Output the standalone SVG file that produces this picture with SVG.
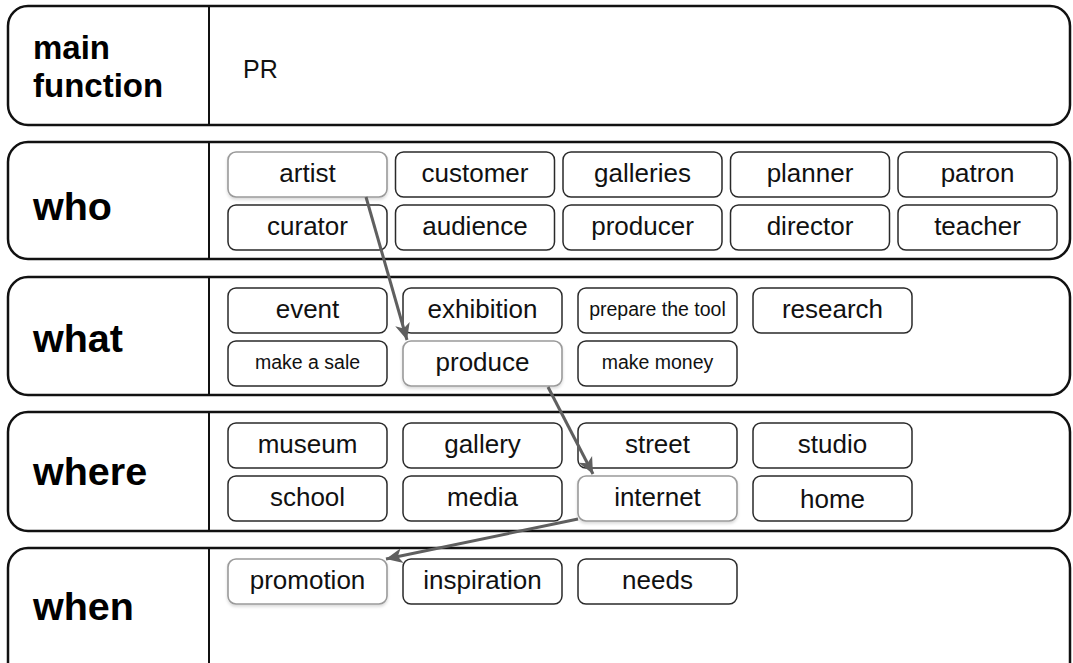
<svg xmlns="http://www.w3.org/2000/svg" width="1073" height="663" viewBox="0 0 1073 663">
<style>
.row{fill:#fff;stroke:#111;stroke-width:2.5}
.div{stroke:#111;stroke-width:2}
.lbl{font-family:"Liberation Sans",Arial,sans-serif;font-weight:bold;font-size:39.5px;fill:#000}
.lbl2{font-family:"Liberation Sans",Arial,sans-serif;font-weight:bold;font-size:33px;fill:#000}
.box{fill:#fff;stroke:#2a2a2a;stroke-width:1.5}
.hl{fill:#fff;stroke:#9a9a9a;stroke-width:1.6;filter:url(#sh)}
.t{font-family:"Liberation Sans",Arial,sans-serif;font-size:26px;fill:#111;text-anchor:middle}
.ts{font-family:"Liberation Sans",Arial,sans-serif;font-size:19.5px;fill:#111;text-anchor:middle}
.pr{font-family:"Liberation Sans",Arial,sans-serif;font-size:25px;fill:#111}
.arr{fill:none;stroke:#5f5f5f;stroke-width:3;marker-end:url(#ah)}
</style>
<defs>
<filter id="sh" x="-10%" y="-20%" width="120%" height="150%">
<feDropShadow dx="0" dy="2" stdDeviation="1.5" flood-color="#000" flood-opacity="0.15"/>
</filter>
<marker id="ah" markerUnits="userSpaceOnUse" markerWidth="18" markerHeight="18" viewBox="0 0 12 12" refX="11" refY="6" orient="auto">
<path d="M0,1 L11,6 L0,11 L3,6 z" fill="#5f5f5f"/>
</marker>
</defs>
<rect width="1073" height="663" fill="#fff"/>

<g id="row-main">
<rect class="row" x="8" y="6" width="1062" height="119" rx="20"/>
<line class="div" x1="209" y1="6" x2="209" y2="125"/>
<text class="lbl2" x="33" y="59">main</text>
<text class="lbl2" x="33" y="97">function</text>
<text class="pr" x="243" y="78">PR</text>
</g>

<g id="row-who">
<rect class="row" x="8" y="142" width="1062" height="117" rx="20"/>
<line class="div" x1="209" y1="142" x2="209" y2="259"/>
<text class="lbl" x="33" y="220">who</text>
</g>
<g id="n-artist"><rect class="hl" x="228" y="152" width="159" height="45" rx="8"/><text class="t" x="307.5" y="182">artist</text></g>
<g id="n-customer"><rect class="box" x="395.5" y="152" width="159" height="45" rx="8"/><text class="t" x="475" y="182">customer</text></g>
<g id="n-galleries"><rect class="box" x="563" y="152" width="159" height="45" rx="8"/><text class="t" x="642.5" y="182">galleries</text></g>
<g id="n-planner"><rect class="box" x="730.5" y="152" width="159" height="45" rx="8"/><text class="t" x="810" y="182">planner</text></g>
<g id="n-patron"><rect class="box" x="898" y="152" width="159" height="45" rx="8"/><text class="t" x="977.5" y="182">patron</text></g>
<g id="n-curator"><rect class="box" x="228" y="205" width="159" height="45" rx="8"/><text class="t" x="307.5" y="235">curator</text></g>
<g id="n-audience"><rect class="box" x="395.5" y="205" width="159" height="45" rx="8"/><text class="t" x="475" y="235">audience</text></g>
<g id="n-producer"><rect class="box" x="563" y="205" width="159" height="45" rx="8"/><text class="t" x="642.5" y="235">producer</text></g>
<g id="n-director"><rect class="box" x="730.5" y="205" width="159" height="45" rx="8"/><text class="t" x="810" y="235">director</text></g>
<g id="n-teacher"><rect class="box" x="898" y="205" width="159" height="45" rx="8"/><text class="t" x="977.5" y="235">teacher</text></g>

<g id="row-what">
<rect class="row" x="8" y="277" width="1062" height="118" rx="20"/>
<line class="div" x1="209" y1="277" x2="209" y2="395"/>
<text class="lbl" x="33" y="352">what</text>
</g>
<g id="n-event"><rect class="box" x="228" y="288" width="159" height="45" rx="8"/><text class="t" x="307.5" y="318">event</text></g>
<g id="n-exhibition"><rect class="box" x="403" y="288" width="159" height="45" rx="8"/><text class="t" x="482.5" y="318">exhibition</text></g>
<g id="n-prepare"><rect class="box" x="578" y="288" width="159" height="45" rx="8"/><text class="ts" x="657.5" y="316">prepare the tool</text></g>
<g id="n-research"><rect class="box" x="753" y="288" width="159" height="45" rx="8"/><text class="t" x="832.5" y="318">research</text></g>
<g id="n-sale"><rect class="box" x="228" y="341" width="159" height="45" rx="8"/><text class="ts" x="307.5" y="369">make a sale</text></g>
<g id="n-produce"><rect class="hl" x="403" y="341" width="159" height="45" rx="8"/><text class="t" x="482.5" y="371">produce</text></g>
<g id="n-money"><rect class="box" x="578" y="341" width="159" height="45" rx="8"/><text class="ts" x="657.5" y="369">make money</text></g>

<g id="row-where">
<rect class="row" x="8" y="412" width="1062" height="119" rx="20"/>
<line class="div" x1="209" y1="412" x2="209" y2="531"/>
<text class="lbl" x="33" y="485">where</text>
</g>
<g id="n-museum"><rect class="box" x="228" y="423" width="159" height="45" rx="8"/><text class="t" x="307.5" y="453">museum</text></g>
<g id="n-gallery"><rect class="box" x="403" y="423" width="159" height="45" rx="8"/><text class="t" x="482.5" y="453">gallery</text></g>
<g id="n-street"><rect class="box" x="578" y="423" width="159" height="45" rx="8"/><text class="t" x="657.5" y="453">street</text></g>
<g id="n-studio"><rect class="box" x="753" y="423" width="159" height="45" rx="8"/><text class="t" x="832.5" y="453">studio</text></g>
<g id="n-school"><rect class="box" x="228" y="476" width="159" height="45" rx="8"/><text class="t" x="307.5" y="506">school</text></g>
<g id="n-media"><rect class="box" x="403" y="476" width="159" height="45" rx="8"/><text class="t" x="482.5" y="506">media</text></g>
<g id="n-internet"><rect class="hl" x="578" y="476" width="159" height="45" rx="8"/><text class="t" x="657.5" y="506">internet</text></g>
<g id="n-home"><rect class="box" x="753" y="476" width="159" height="45" rx="8"/><text class="t" x="832.5" y="508">home</text></g>

<g id="row-when">
<rect class="row" x="8" y="548" width="1062" height="140" rx="20"/>
<line class="div" x1="209" y1="548" x2="209" y2="663"/>
<text class="lbl" x="33" y="620">when</text>
</g>
<g id="n-promotion"><rect class="hl" x="228" y="559" width="159" height="45" rx="8"/><text class="t" x="307.5" y="589">promotion</text></g>
<g id="n-inspiration"><rect class="box" x="403" y="559" width="159" height="45" rx="8"/><text class="t" x="482.5" y="589">inspiration</text></g>
<g id="n-needs"><rect class="box" x="578" y="559" width="159" height="45" rx="8"/><text class="t" x="657.5" y="589">needs</text></g>

<g id="connectors">
<path class="arr" d="M366,197 L407,340"/>
<path class="arr" d="M548,387 L593,474"/>
<path class="arr" d="M578,519 L386,559"/>
</g>
</svg>
